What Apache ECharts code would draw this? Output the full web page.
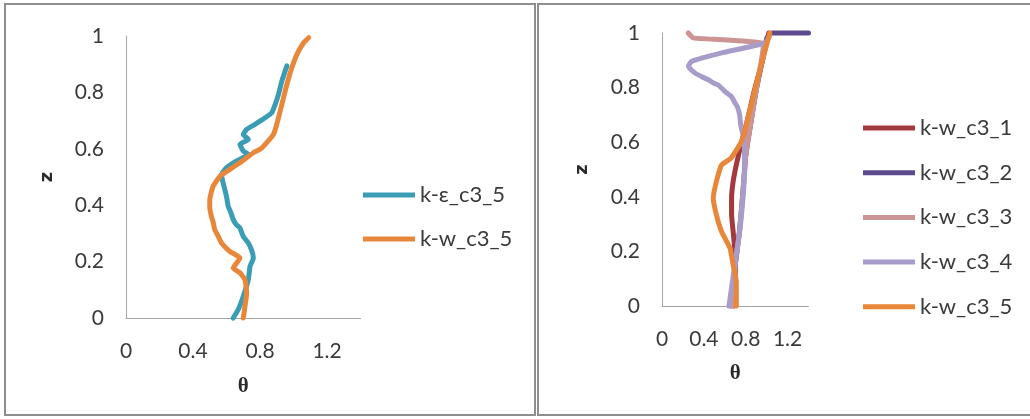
<!DOCTYPE html>
<html>
<head>
<meta charset="utf-8">
<script src="https://cdn.jsdelivr.net/npm/echarts@6/dist/echarts.min.js"></script>
<style>
  html, body { margin: 0; padding: 0; background: #ffffff; }
  #chart { width: 1030px; height: 419px; }
</style>
</head>
<body>
<div id="chart"></div>
<script>
// Temperature profiles θ against dimensionless height z, points listed as [θ, z]

// Left panel: k-ε versus k-w, case c3_5
const kEps_c3_5 = [
  [0.64, 0.00], [0.67, 0.03], [0.70, 0.077], [0.73, 0.136], [0.74, 0.183],
  [0.76, 0.213], [0.75, 0.24], [0.73, 0.266], [0.70, 0.289], [0.68, 0.319],
  [0.66, 0.33], [0.64, 0.349], [0.625, 0.375], [0.61, 0.396], [0.60, 0.43],
  [0.59, 0.455], [0.575, 0.49], [0.57, 0.509], [0.60, 0.533], [0.66, 0.557],
  [0.73, 0.58], [0.70, 0.592], [0.68, 0.616], [0.73, 0.633], [0.70, 0.651],
  [0.72, 0.669], [0.77, 0.687], [0.83, 0.71], [0.87, 0.728], [0.89, 0.757],
  [0.91, 0.793], [0.93, 0.84], [0.96, 0.894]
];
const kW_c3_5_left = [
  [0.70, 0.00], [0.71, 0.041], [0.72, 0.089], [0.71, 0.136], [0.68, 0.16],
  [0.64, 0.177], [0.66, 0.195], [0.68, 0.213], [0.62, 0.236], [0.57, 0.266],
  [0.55, 0.29], [0.53, 0.313], [0.52, 0.34], [0.51, 0.36], [0.50, 0.39],
  [0.50, 0.42], [0.52, 0.467], [0.565, 0.505], [0.62, 0.527], [0.68, 0.551],
  [0.72, 0.568], [0.76, 0.586], [0.80, 0.598], [0.84, 0.622], [0.88, 0.651],
  [0.90, 0.687], [0.92, 0.734], [0.94, 0.781], [0.96, 0.828], [0.99, 0.888],
  [1.02, 0.935], [1.06, 0.976], [1.09, 0.994]
];

// Right panel: k-w, cases c3_1 .. c3_5
const kW_c3_1 = [
  [0.69, 0.00], [0.70, 0.10], [0.695, 0.21], [0.68, 0.272], [0.665, 0.334],
  [0.665, 0.395], [0.68, 0.456], [0.71, 0.517], [0.76, 0.60], [0.81, 0.67],
  [0.88, 0.786], [0.96, 0.90], [1.02, 1.00]
];
const kW_c3_2 = [
  [0.66, 0.00], [0.70, 0.15], [0.74, 0.272], [0.77, 0.40], [0.80, 0.55],
  [0.84, 0.65], [0.90, 0.79], [0.96, 0.90], [1.00, 0.98], [1.05, 1.00],
  [1.40, 1.00]
];
const kW_c3_3 = [
  [0.67, 0.00], [0.70, 0.15], [0.74, 0.272], [0.77, 0.40], [0.80, 0.55],
  [0.84, 0.65], [0.90, 0.79], [0.95, 0.90], [0.97, 0.96], [0.60, 0.975],
  [0.30, 0.982], [0.25, 1.00]
];
const kW_c3_4 = [
  [0.64, 0.00], [0.695, 0.15], [0.742, 0.272], [0.774, 0.395], [0.79, 0.50],
  [0.785, 0.60], [0.774, 0.627], [0.752, 0.664], [0.742, 0.70], [0.72, 0.73],
  [0.70, 0.742], [0.664, 0.767], [0.62, 0.78], [0.60, 0.786], [0.537, 0.81],
  [0.50, 0.815], [0.442, 0.829], [0.38, 0.84], [0.316, 0.853], [0.252, 0.878],
  [0.284, 0.896], [0.569, 0.927], [0.979, 0.963], [1.03, 0.99]
];
const kW_c3_5 = [
  [0.71, 0.00], [0.71, 0.089], [0.68, 0.15], [0.65, 0.212], [0.57, 0.272],
  [0.52, 0.334], [0.49, 0.395], [0.52, 0.456], [0.57, 0.517], [0.66, 0.542],
  [0.76, 0.603], [0.805, 0.664], [0.884, 0.786], [0.96, 0.90], [1.03, 1.00]
];

const xTicks = { min: 0, max: 1.4, interval: 0.4 };
const zTicks = { min: 0, max: 1, interval: 0.2 };

const leftNames = ['k-ε_c3_5', 'k-w_c3_5'];
const rightNames = ['k-w_c3_1', 'k-w_c3_2', 'k-w_c3_3', 'k-w_c3_4', 'k-w_c3_5'];

const colors = {
  teal: '#3a9cb5',
  orange: '#e8873a',
  red: '#a3383d',
  purple: '#5d4a8e',
  pink: '#cc9593',
  lavender: '#a89ccb'
};

const FONT = 'Lato, "Liberation Sans", sans-serif';
const TEXT = '#3a3a3a';

function xAxisFor(gridIndex, gap) {
  return {
    type: 'value', gridIndex,
    min: xTicks.min, max: xTicks.max, interval: xTicks.interval,
    name: 'θ', nameLocation: 'middle', nameGap: gap,
    nameTextStyle: { fontFamily: '"Liberation Serif", serif', fontSize: 21, fontWeight: 'bold', color: '#2a2a2a' },
    axisLine: { show: true, lineStyle: { color: '#a6a6a6', width: 1 } },
    axisTick: { show: false },
    splitLine: { show: false },
    axisLabel: { showMaxLabel: false, margin: 23, fontFamily: FONT, fontSize: 21, color: TEXT }
  };
}
function yAxisFor(gridIndex, gap) {
  return {
    type: 'value', gridIndex,
    min: zTicks.min, max: zTicks.max, interval: zTicks.interval,
    name: 'z', nameLocation: 'middle', nameGap: gap, nameRotate: 90,
    nameTextStyle: { fontFamily: '"DejaVu Sans", sans-serif', fontSize: 18, fontWeight: 'bold', color: '#2a2a2a' },
    axisLine: { show: true, lineStyle: { color: '#a6a6a6', width: 1 } },
    axisTick: { show: false },
    splitLine: { show: false },
    axisLabel: { margin: 22, fontFamily: FONT, fontSize: 21, color: TEXT }
  };
}
function lineSeries(name, data, color, idx) {
  return {
    type: 'line', name, data, xAxisIndex: idx, yAxisIndex: idx,
    showSymbol: false, symbol: 'none', smooth: 0.15,
    lineStyle: { color, width: 5, cap: 'round', join: 'round' },
    itemStyle: { color },
    clip: false, animation: false
  };
}
function legendFor(names, left, top, gap) {
  return {
    data: names, orient: 'vertical', left, top, itemGap: gap,
    icon: 'rect', itemWidth: 52, itemHeight: 5,
    selectedMode: false,
    textStyle: { fontFamily: FONT, fontSize: 22, color: TEXT, lineHeight: 22 }
  };
}

const chart = echarts.init(document.getElementById('chart'), null, { renderer: 'canvas' });
chart.setOption({
  backgroundColor: '#ffffff',
  animation: false,
  graphic: [
    { type: 'rect', shape: { x: 5, y: 4, width: 530, height: 411 },
      style: { fill: 'none', stroke: '#8e8e8e', lineWidth: 2 }, silent: true },
    { type: 'rect', shape: { x: 538, y: 4, width: 520, height: 411 },
      style: { fill: 'none', stroke: '#8e8e8e', lineWidth: 2 }, silent: true }
  ],
  grid: [
    { left: 126, top: 36, width: 234.6, height: 282 },
    { left: 662, top: 33, width: 146.5, height: 273 }
  ],
  xAxis: [xAxisFor(0, 58), xAxisFor(1, 57)],
  yAxis: [yAxisFor(0, 70), yAxisFor(1, 71)],
  legend: [
    legendFor(leftNames, 358, 179, 22),
    legendFor(rightNames, 858, 112, 22.7)
  ],
  series: [
    lineSeries(leftNames[0], kEps_c3_5, colors.teal, 0),
    lineSeries(leftNames[1], kW_c3_5_left, colors.orange, 0),
    lineSeries(rightNames[0], kW_c3_1, colors.red, 1),
    lineSeries(rightNames[1], kW_c3_2, colors.purple, 1),
    lineSeries(rightNames[2], kW_c3_3, colors.pink, 1),
    lineSeries(rightNames[3], kW_c3_4, colors.lavender, 1),
    lineSeries(rightNames[4], kW_c3_5, colors.orange, 1)
  ]
});
</script>
</body>
</html>
